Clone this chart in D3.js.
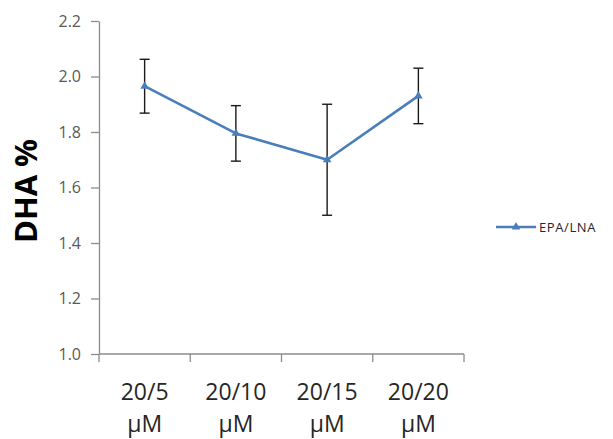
<!DOCTYPE html>
<html>
<head>
<meta charset="utf-8">
<script src="https://cdn.jsdelivr.net/npm/d3@7"></script>
<style>
  body { margin: 0; background: #fff; }
  text { font-family: "Open Sans", "Liberation Sans", sans-serif; }
</style>
</head>
<body>
<div id="chart"></div>
<script>
const categories = ["20/5", "20/10", "20/15", "20/20"];
const unitLabel = "\u00b5M";
const values = [1.965, 1.795, 1.70, 1.93];
const errors = [0.097, 0.10, 0.20, 0.10];
const yTicks = [1.0, 1.2, 1.4, 1.6, 1.8, 2.0, 2.2];
const seriesName = "EPA/LNA";
const yTitle = "DHA %";

const width = 613;
const height = 439;
const margin = { top: 21, right: 149, bottom: 85, left: 99 };
const lineColor = "#4a7ebb";
const axisColor = "#8c8c8c";

const svg = d3
  .select("#chart")
  .append("svg")
  .attr("width", width)
  .attr("height", height);

const xScale = d3
  .scaleBand()
  .domain(categories)
  .range([margin.left, width - margin.right]);

const yScale = d3
  .scaleLinear()
  .domain([1.0, 2.2])
  .range([height - margin.bottom, margin.top]);

// y axis
const yAxis = svg
  .append("g")
  .attr("transform", `translate(${margin.left}, 0)`)
  .call(
    d3.axisLeft(yScale)
      .tickValues(yTicks)
      .tickFormat(d3.format(".1f"))
      .tickSize(8)
      .tickSizeOuter(0)
      .tickPadding(10)
  );
yAxis.select(".domain").attr("stroke", axisColor).attr("stroke-width", 1.3);
yAxis.selectAll(".tick line").attr("stroke", axisColor).attr("stroke-width", 1.3);
yAxis
  .selectAll(".tick text")
  .attr("fill", "#595959")
  .style("font-size", "16px");

// x axis, ticks at category boundaries
const xAxisG = svg
  .append("g")
  .attr("transform", `translate(0, ${height - margin.bottom})`);
xAxisG
  .append("line")
  .attr("x1", margin.left)
  .attr("x2", width - margin.right)
  .attr("stroke", axisColor)
  .attr("stroke-width", 1.3);
const boundaries = categories.map((c) => xScale(c)).concat([xScale.range()[1]]);
xAxisG
  .selectAll(".xtick")
  .data(boundaries)
  .join("line")
  .attr("class", "xtick")
  .attr("x1", (d) => d)
  .attr("x2", (d) => d)
  .attr("y1", 0)
  .attr("y2", 8)
  .attr("stroke", axisColor)
  .attr("stroke-width", 1.3);

const xLabels = xAxisG
  .selectAll(".xlabel")
  .data(categories)
  .join("text")
  .attr("class", "xlabel")
  .attr("text-anchor", "middle")
  .attr("fill", "#262626")
  .style("font-size", "23px");
xLabels
  .append("tspan")
  .attr("x", (d) => xScale(d) + xScale.bandwidth() / 2)
  .attr("y", 46)
  .text((d) => d);
xLabels
  .append("tspan")
  .attr("x", (d) => xScale(d) + xScale.bandwidth() / 2)
  .attr("y", 78)
  .text(unitLabel);

// y title
svg
  .append("text")
  .attr("transform", "rotate(-90)")
  .attr("x", -191)
  .attr("y", 37)
  .attr("text-anchor", "middle")
  .attr("fill", "#000")
  .style("font-size", "31px")
  .style("font-weight", "bold")
  .text(yTitle);

const cx = (d, i) => xScale(categories[i]) + xScale.bandwidth() / 2;

// error bars
const errG = svg.append("g");
values.forEach((v, i) => {
  const x = cx(v, i);
  const y1 = yScale(v + errors[i]);
  const y2 = yScale(v - errors[i]);
  errG.append("line").attr("x1", x).attr("x2", x).attr("y1", y1).attr("y2", y2)
    .attr("stroke", "#1a1a1a").attr("stroke-width", 1.4);
  [y1, y2].forEach((y) => {
    errG.append("line").attr("x1", x - 5).attr("x2", x + 5).attr("y1", y).attr("y2", y)
      .attr("stroke", "#1a1a1a").attr("stroke-width", 1.4);
  });
});

// line
const lineGen = d3
  .line()
  .x((d, i) => cx(d, i))
  .y((d) => yScale(d));

svg
  .append("path")
  .attr("fill", "none")
  .attr("stroke", lineColor)
  .attr("stroke-width", 2.6)
  .attr("stroke-linejoin", "round")
  .attr("d", lineGen(values));

const triangle = d3.symbol().type(d3.symbolTriangle).size(32);
svg
  .selectAll(".marker")
  .data(values)
  .join("path")
  .attr("class", "marker")
  .attr("transform", (d, i) => `translate(${cx(d, i)}, ${yScale(d)})`)
  .attr("d", triangle)
  .attr("fill", lineColor);

// legend
const legend = svg.append("g").attr("transform", "translate(496, 227)");
legend
  .append("line")
  .attr("x1", 0)
  .attr("x2", 40)
  .attr("stroke", lineColor)
  .attr("stroke-width", 2.6);
legend
  .append("path")
  .attr("transform", "translate(20, 0)")
  .attr("d", triangle)
  .attr("fill", lineColor);
legend
  .append("text")
  .attr("x", 43)
  .attr("y", 0)
  .attr("dy", "0.35em")
  .attr("fill", "#262626")
  .style("font-size", "13px")
  .style("letter-spacing", "0.6px")
  .text(seriesName);
</script>
</body>
</html>
